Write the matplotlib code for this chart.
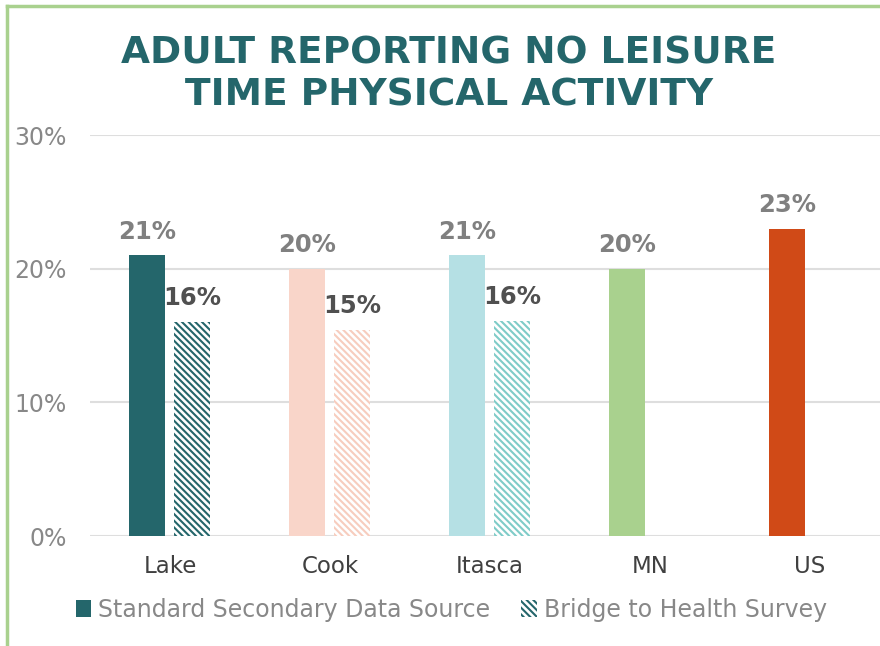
import matplotlib
matplotlib.use("Agg")
import matplotlib.pyplot as plt
from matplotlib.patches import Patch
from matplotlib.lines import Line2D

# data
categories = ["Lake", "Cook", "Itasca", "MN", "US"]
standard = [0.21, 0.20, 0.21, 0.20, 0.23]
bridge = [0.16, 0.154, 0.161, None, None]
std_colors = ["#24666B", "#F9D5C9", "#B5E0E4", "#A9D18E", "#D04A17"]
bridge_colors = ["#24666B", "#F7CDBE", "#7FCCC8"]
title = "ADULT REPORTING NO LEISURE\nTIME PHYSICAL ACTIVITY"

plt.rcParams["hatch.linewidth"] = 1.5
HATCH = "\\" * 5

fig = plt.figure(figsize=(8.8, 6.46), dpi=100)
ax = fig.add_axes([90 / 880, 110 / 646, 790 / 880, 401 / 646])

w = 0.225
xs = range(len(categories))
for i in xs:
    ax.bar(i - 0.144, standard[i], width=w, color=std_colors[i], lw=0, zorder=2)
    ax.annotate(f"{standard[i]*100:.0f}%", (i - 0.144, standard[i]),
                xytext=(0, 12), textcoords="offset points", ha="center",
                va="baseline", fontsize=17.5, fontweight="bold", color="#808080")
    if bridge[i] is not None:
        ax.bar(i + 0.14, bridge[i], width=w, facecolor="white",
               edgecolor=bridge_colors[i], hatch=HATCH, lw=0, zorder=2)
        ax.annotate(f"{bridge[i]*100:.0f}%", (i + 0.14, bridge[i]),
                    xytext=(0, 12), textcoords="offset points", ha="center",
                    va="baseline", fontsize=17.5, fontweight="bold", color="#505050")

ax.set_xlim(-0.5, 4.4375)
ax.set_ylim(0, 0.30)
ax.set_yticks([0, 0.1, 0.2, 0.3])
ax.set_yticklabels(["0%", "10%", "20%", "30%"])
ax.set_xticks(list(xs))
ax.set_xticklabels(categories)
ax.tick_params(axis="y", length=0, labelsize=17, labelcolor="#888888", pad=17)
ax.tick_params(axis="x", length=0, labelsize=16.5, labelcolor="#404040", pad=14)
ax.grid(axis="y", color="#DEDEDE", lw=1.5, zorder=0)
for s in ax.spines.values():
    s.set_visible(False)

fig.text(0.51, 0.885, title, ha="center", va="center", fontsize=27,
         fontweight="bold", color="#24666B", linespacing=1.2)

handles = [Patch(facecolor="#24666B", lw=0),
           Patch(facecolor="white", edgecolor="#24666B", hatch=HATCH, lw=0)]
fig.legend(handles, ["Standard Secondary Data Source", "Bridge to Health Survey"],
           loc="center", bbox_to_anchor=(0.513, 0.056), ncol=2, frameon=False,
           fontsize=17, labelcolor="#888888", handlelength=0.65,
           handleheight=0.75, handletextpad=0.3, columnspacing=1.3)

# green frame on top and left
fig.add_artist(Line2D([7 / 880, 7 / 880], [0, 640 / 646], color="#A9D18E",
                      lw=2.5, transform=fig.transFigure))
fig.add_artist(Line2D([7 / 880, 1], [640 / 646, 640 / 646], color="#A9D18E",
                      lw=2.5, transform=fig.transFigure))

fig.savefig("out.png", dpi=100)
